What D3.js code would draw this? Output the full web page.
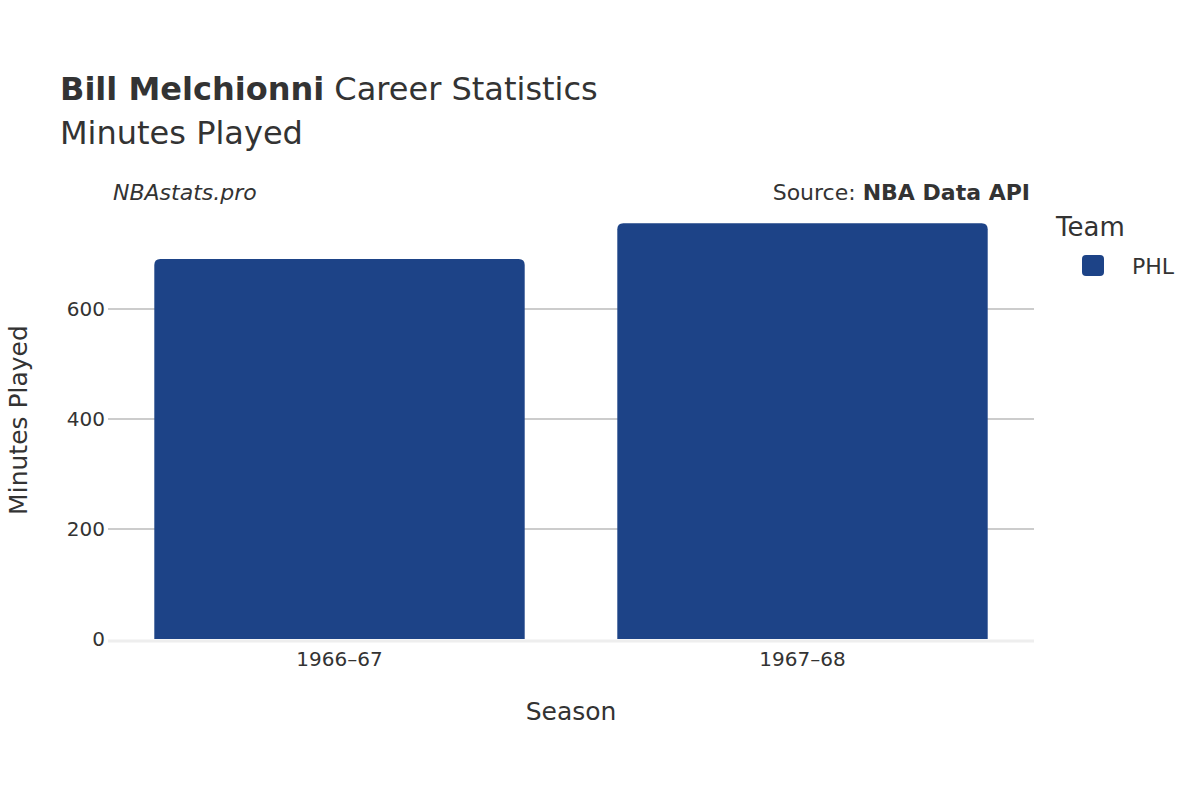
<!DOCTYPE html><html><head><meta charset="utf-8"><script src="https://d3js.org/d3.v7.min.js"></script>
<style>body{margin:0;background:#fff}text{font-family:"DejaVu Sans",sans-serif;fill:#333}</style></head><body>
<svg id="c" width="1200" height="800"></svg>
<script>
const seasons=["1966–67","1967–68"];
const minutes=[691,756];
const yTicks=[0,200,400,600];
const team="PHL", color="#1d4387";
const svg=d3.select("#c");
const L=108,R=1034,T=200,B=639;
const x=d3.scaleBand().domain(seasons).range([L,R]).padding(0.2).paddingOuter(0.1);
const y=d3.scaleLinear().domain([0,800]).range([B,B-800*0.55]);
svg.selectAll(".g").data(yTicks.filter(d=>d>0)).join("line").attr("x1",L).attr("x2",R).attr("y1",d=>y(d)).attr("y2",d=>y(d)).attr("stroke","#999").attr("stroke-width",1);
svg.append("line").attr("x1",L).attr("x2",R).attr("y1",B+2).attr("y2",B+2).attr("stroke","#eee").attr("stroke-width",3);
svg.selectAll(".yt").data(yTicks).join("text").attr("x",L-3).attr("y",d=>y(d)+7).attr("text-anchor","end").attr("font-size",20).text(d=>d);
svg.selectAll(".b").data(seasons).join("path").attr("fill",color).attr("d",(s,i)=>{
 const x0=x(s),w=x.bandwidth(),y0=y(minutes[i]),r=6;
 return `M${x0},${B}V${y0+r}Q${x0},${y0} ${x0+r},${y0}H${x0+w-r}Q${x0+w},${y0} ${x0+w},${y0+r}V${B}Z`;});
svg.selectAll(".xt").data(seasons).join("text").attr("x",d=>x(d)+x.bandwidth()/2).attr("y",666).attr("text-anchor","middle").attr("font-size",20).text(d=>d);
svg.append("text").attr("x",571).attr("y",720).attr("text-anchor","middle").attr("font-size",25).text("Season");
svg.append("text").attr("transform","translate(27,420) rotate(-90)").attr("text-anchor","middle").attr("font-size",25).text("Minutes Played");
const t=svg.append("text").attr("x",60).attr("y",100).attr("font-size",32);
t.append("tspan").attr("font-weight","bold").text("Bill Melchionni");t.append("tspan").text(" Career Statistics");
svg.append("text").attr("x",60).attr("y",144).attr("font-size",32).text("Minutes Played");
svg.append("text").attr("x",113).attr("y",200).attr("font-size",22).attr("font-style","italic").text("NBAstats.pro");
const s=svg.append("text").attr("x",1030).attr("y",200).attr("font-size",22).attr("text-anchor","end");
s.append("tspan").text("Source: ");s.append("tspan").attr("font-weight","bold").text("NBA Data API");
svg.append("text").attr("x",1056).attr("y",236).attr("font-size",26).text("Team");
svg.append("rect").attr("x",1082).attr("y",255).attr("width",22).attr("height",21).attr("rx",4).attr("fill",color);
svg.append("text").attr("x",1132).attr("y",274).attr("font-size",22).text(team);
</script></body></html>
